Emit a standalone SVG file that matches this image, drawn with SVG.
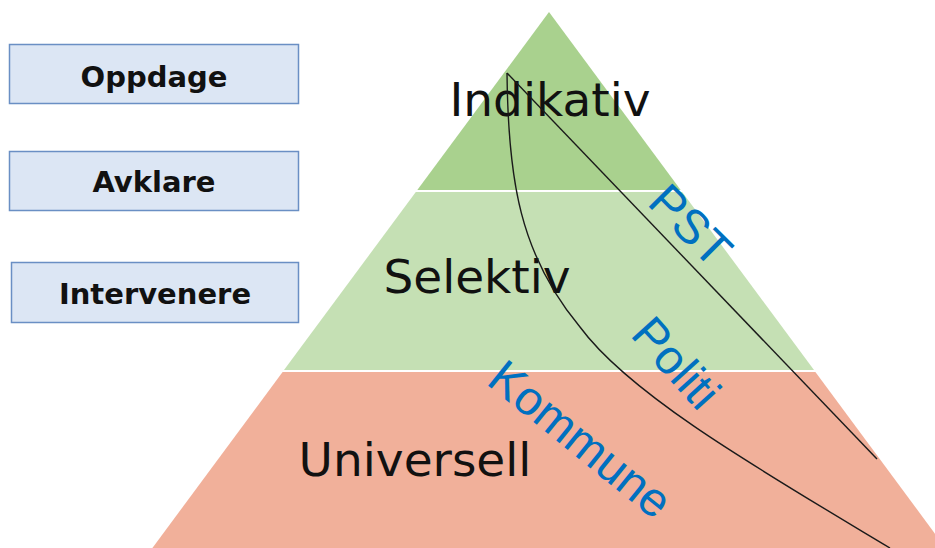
<svg xmlns="http://www.w3.org/2000/svg" width="935" height="548" viewBox="0 0 935 548">
<style>
.box{fill:#DCE6F4;stroke:#6A8FC4;stroke-width:1.5}
.btxt{font-family:"DejaVu Sans",sans-serif;font-weight:bold;font-size:29px;fill:#111;text-anchor:middle}
.lvl{font-family:"DejaVu Sans",sans-serif;font-size:47px;fill:#111;text-anchor:middle}
.blue{font-family:"Liberation Sans",Arial,sans-serif;font-size:48px;fill:#0070C0;text-anchor:middle}
.conn{fill:none;stroke:#1a1a1a;stroke-width:1.4}
</style>
<rect width="935" height="548" fill="#ffffff"/>
<g id="band-indikativ">
<polygon points="549,12 680.7,190 417.3,190" fill="#A9D18E"/>
<text class="lvl" x="550" y="116">Indikativ</text>
</g>
<g id="band-selektiv">
<polygon points="415.8,192 682.2,192 814,370 284,370" fill="#C5E0B4"/>
<text class="lvl" x="477" y="293">Selektiv</text>
</g>
<g id="band-universell">
<polygon points="282.6,372 815.4,372 945.6,548 152.4,548" fill="#F1B09A"/>
<text class="lvl" x="415" y="476">Universell</text>
</g>
<g id="connectors">
<path class="conn" d="M507,73 L877,459"/>
<path class="conn" d="M507,73 C508,180 520,255 580,327 C630,395 760,470 890,548"/>
</g>
<g id="label-pst">
<text class="blue" transform="translate(679,237) rotate(45)">PST</text>
</g>
<g id="label-politi">
<text class="blue" transform="translate(664,374) rotate(48)">Politi</text>
</g>
<g id="label-kommune">
<text class="blue" transform="translate(570,452) rotate(39)">Kommune</text>
</g>
<g id="box-oppdage">
<rect class="box" x="9.5" y="44.5" width="289" height="59"/>
<text class="btxt" x="154" y="87">Oppdage</text>
</g>
<g id="box-avklare">
<rect class="box" x="9.5" y="151.5" width="289" height="59"/>
<text class="btxt" x="154" y="192">Avklare</text>
</g>
<g id="box-intervenere">
<rect class="box" x="11.5" y="262.5" width="287" height="60"/>
<text class="btxt" x="155" y="304">Intervenere</text>
</g>
</svg>
